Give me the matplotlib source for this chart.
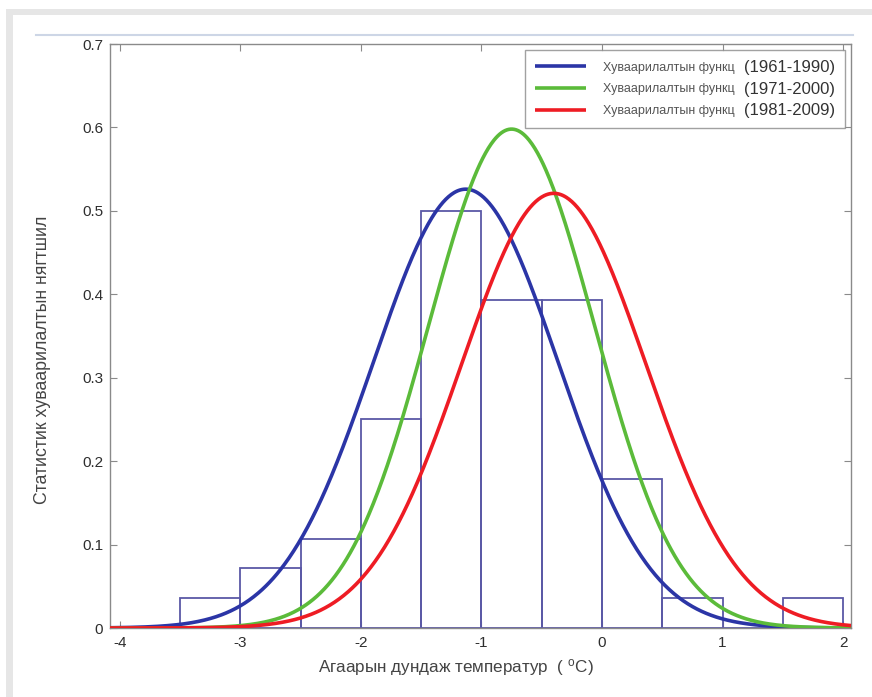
import numpy as np
import matplotlib
matplotlib.use('Agg')
import matplotlib.pyplot as plt
from matplotlib.lines import Line2D
from matplotlib.patches import Rectangle

plt.rcParams['font.family'] = ['Liberation Sans', 'DejaVu Sans']
plt.rcParams['axes.unicode_minus'] = False
plt.rcParams['mathtext.default'] = 'regular'

# ---- data ----
bin_lefts = [-3.5, -3.0, -2.5, -2.0, -1.5, -1.0, -0.5, 0.0, 0.5, 1.0, 1.5]
bin_density = [0.0357, 0.0714, 0.1071, 0.25, 0.50, 0.3929, 0.3929, 0.1786, 0.0357, 0.0, 0.0357]
bin_width = 0.5

periods = ['(1961-1990)', '(1971-2000)', '(1981-2009)']
curve_label = 'Хуваарилалтын функц'
curve_means = [-1.13, -0.75, -0.40]
curve_sigmas = [0.765, 0.688, 0.765]
curve_peaks = [0.526, 0.598, 0.521]
curve_colors = ['#2b35a6', '#5bbb3a', '#ee1c24']

xticks = [-4, -3, -2, -1, 0, 1, 2]
yticks = [0, 0.1, 0.2, 0.3, 0.4, 0.5, 0.6, 0.7]
ytick_labels = ['0', '0.1', '0.2', '0.3', '0.4', '0.5', '0.6', '0.7']

W, H = 872, 697
fig = plt.figure(figsize=(W / 100, H / 100), dpi=100)
fig.patch.set_facecolor('white')

# scan frame (gray band top & left, faint line)
fig.patches.append(Rectangle((6 / W, 1 - 15 / H), 1, 6 / H, transform=fig.transFigure,
                             facecolor='#e6e6e6', edgecolor='none', zorder=0))
fig.patches.append(Rectangle((6 / W, 0), 7 / W, 1 - 9 / H, transform=fig.transFigure,
                             facecolor='#e6e6e6', edgecolor='none', zorder=0))
fig.lines.append(Line2D([36 / W, 853 / W], [1 - 35 / H, 1 - 35 / H], transform=fig.transFigure,
                       color='#cdd6e6', lw=1.5, zorder=0))

ax = fig.add_axes([110 / W, (H - 628) / H, 741 / W, 584 / H])
ax.set_facecolor('none')

# histogram
ax.bar(bin_lefts, bin_density, width=bin_width, align='edge', fill=False,
       edgecolor='#5a58a6', linewidth=1.3, zorder=2)

# distribution curves
xs = np.linspace(-4.08, 2.065, 800)
handles = []
for m, s, p, c in zip(curve_means, curve_sigmas, curve_peaks, curve_colors):
    ys = p * np.exp(-(xs - m) ** 2 / (2 * s ** 2))
    ln, = ax.plot(xs, ys, color=c, lw=2.6, zorder=3, solid_capstyle='butt')
    handles.append(ln)

ax.set_xlim(-4.08, 2.065)
ax.set_ylim(0, 0.7)
ax.set_xticks(xticks)
ax.set_xticklabels([str(t) for t in xticks])
ax.set_yticks(yticks)
ax.set_yticklabels(ytick_labels)
for sp in ax.spines.values():
    sp.set_color('#8a8a8a')
    sp.set_linewidth(1.0)
ax.tick_params(direction='in', top=True, right=True, length=5, width=0.8,
               color='#8a8a8a', labelsize=11, labelcolor='#2e2e2e')
ax.tick_params(axis='x', pad=6)
ax.tick_params(axis='y', pad=5)

ax.set_xlabel('Агаарын дундаж температур  ( $^{o}$C)', fontsize=12.3, color='#444444')
ax.xaxis.set_label_coords((456 - 110) / 741, (628 - 657) / 584)
ax.set_ylabel('Статистик хуваарилалтын нягтшил', fontsize=12.8, color='#444444')
ax.yaxis.set_label_coords((51 - 110) / 741, (628 - 360) / 584)

leg = ax.legend(handles, periods, loc='upper right',
                bbox_to_anchor=((845 - 110) / 741, (628 - 50) / 584),
                borderaxespad=0, fontsize=12, frameon=True, fancybox=False,
                handlelength=3.06, handletextpad=9.5, labelspacing=0.4,
                borderpad=0.6)
leg.get_frame().set_edgecolor('#8a8a8a')
leg.get_frame().set_linewidth(1.0)
for t in leg.get_texts():
    t.set_color('#333333')

fig.canvas.draw()
inv = fig.transFigure.inverted()
for t in leg.get_texts():
    bb = t.get_window_extent()
    xf, yf = inv.transform((bb.x0 - 9, (bb.y0 + bb.y1) / 2))
    fig.text(xf, yf, curve_label, ha='right', va='center', fontsize=9, color='#555555')

fig.savefig('out.png', dpi=100)
